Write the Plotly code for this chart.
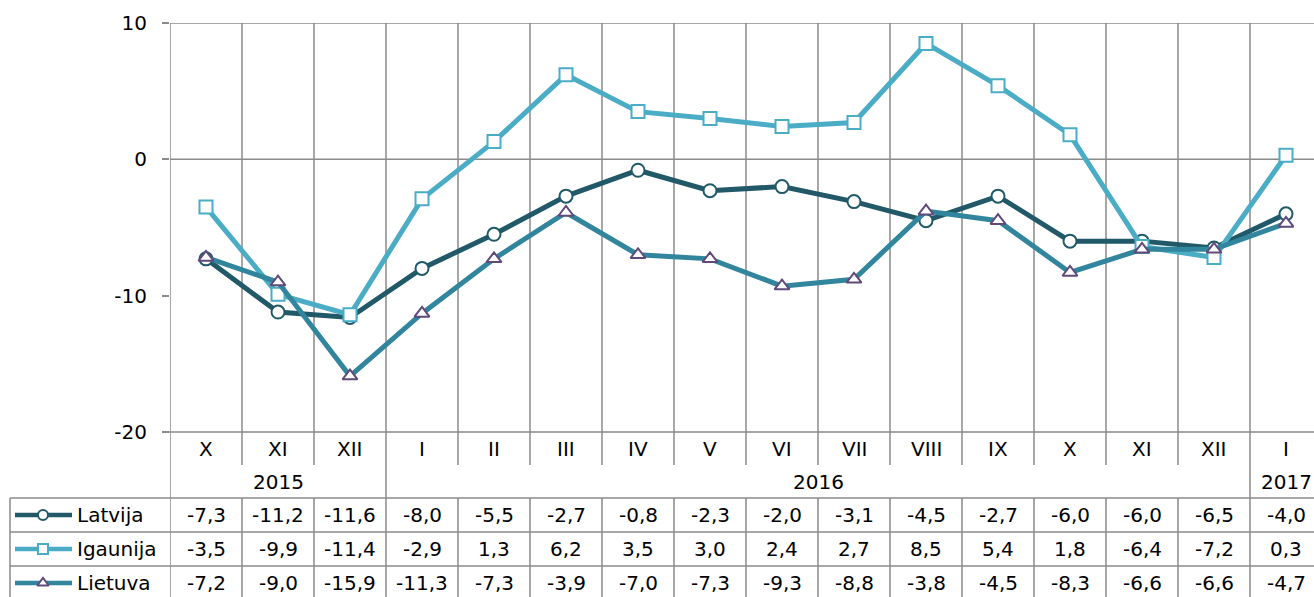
import plotly.graph_objects as go

months = ["X", "XI", "XII", "I", "II", "III", "IV", "V", "VI", "VII", "VIII", "IX", "X", "XI", "XII", "I"]
years = [("2015", 0, 2), ("2016", 3, 14), ("2017", 15, 15)]
latvija = [-7.3, -11.2, -11.6, -8.0, -5.5, -2.7, -0.8, -2.3, -2.0, -3.1, -4.5, -2.7, -6.0, -6.0, -6.5, -4.0]
igaunija = [-3.5, -9.9, -11.4, -2.9, 1.3, 6.2, 3.5, 3.0, 2.4, 2.7, 8.5, 5.4, 1.8, -6.4, -7.2, 0.3]
lietuva = [-7.2, -9.0, -15.9, -11.3, -7.3, -3.9, -7.0, -7.3, -9.3, -8.8, -3.8, -4.5, -8.3, -6.6, -6.6, -4.7]
y_ticks = [-20, -10, 0, 10]

series = [
    ("Latvija", latvija, "#215968", "circle", "#215968"),
    ("Igaunija", igaunija, "#4BACC6", "square", "#4BACC6"),
    ("Lietuva", lietuva, "#31859C", "triangle-up", "#604A7B"),
]

W, H = 1314, 597
OFF = 0  # body margin removed via post_script
FONT = "DejaVu Sans"
GRID = "#8a8a8a"

def px_x(p):
    return (p - OFF) / W

def px_y(p):
    return 1 - (p - OFF) / H

plot_left, plot_top, plot_bottom = 170, 23, 432
col_w = 72.0
n = len(months)
x_idx = list(range(n))

fig = go.Figure()

for name, vals, color, sym, mcol in series:
    fig.add_trace(go.Scatter(
        x=x_idx, y=vals, mode="lines+markers", name=name,
        line=dict(color=color, width=5),
        marker=dict(symbol=sym, size=13, color="white", line=dict(color=mcol, width=2)),
        cliponaxis=False, xaxis="x", yaxis="y",
    ))

# legend samples inside the table (secondary axes)
row_centers = [17, 51, 85]  # in x2/y2 pixel units relative to table top
for (name, vals, color, sym, mcol), rc in zip(series, row_centers):
    fig.add_trace(go.Scatter(x=[5, 62], y=[rc, rc], mode="lines",
                             line=dict(color=color, width=4.5),
                             xaxis="x2", yaxis="y2", hoverinfo="skip"))
    fig.add_trace(go.Scatter(x=[33], y=[rc], mode="markers",
                             marker=dict(symbol=sym, size=10, color="white",
                                         line=dict(color=mcol, width=2)),
                             xaxis="x2", yaxis="y2", hoverinfo="skip", cliponaxis=False))

shapes = []
line = dict(color=GRID, width=1.5)

# horizontal lines
for yv in [10, 0]:
    shapes.append(dict(type="line", xref="paper", yref="y", x0=px_x(plot_left), x1=1, y0=yv, y1=yv, line=line, layer="below"))
shapes.append(dict(type="line", xref="paper", yref="paper", x0=px_x(plot_left - 7), x1=1,
                   y0=px_y(plot_bottom), y1=px_y(plot_bottom), line=line))
for py in [498, 532, 566]:
    shapes.append(dict(type="line", xref="paper", yref="paper", x0=px_x(10), x1=1,
                       y0=px_y(py), y1=px_y(py), line=line))
shapes.append(dict(type="line", xref="paper", yref="paper", x0=px_x(10), x1=px_x(10),
                   y0=px_y(498), y1=0, line=line))

# vertical lines at category boundaries
group_edges = set()
for _, a, b in years:
    group_edges.add(a - 0.5)
    group_edges.add(b + 0.5)
for k in range(n + 1):
    xb = k - 0.5
    if xb in group_edges:
        shapes.append(dict(type="line", xref="x", yref="paper", x0=xb, x1=xb,
                           y0=px_y(plot_top), y1=0, line=line, layer="below"))
    else:
        shapes.append(dict(type="line", xref="x", yref="paper", x0=xb, x1=xb,
                           y0=px_y(plot_top), y1=px_y(465), line=line, layer="below"))
        shapes.append(dict(type="line", xref="x", yref="paper", x0=xb, x1=xb,
                           y0=px_y(498), y1=0, line=line, layer="below"))

annotations = []
tfont = dict(family=FONT, size=20, color="black")
for i, m in enumerate(months):
    annotations.append(dict(x=i, y=px_y(449), xref="x", yref="paper", text=m,
                            showarrow=False, font=tfont, xanchor="center", yanchor="middle"))
for label, a, b in years:
    annotations.append(dict(x=(a + b) / 2, y=px_y(482), xref="x", yref="paper", text=label,
                            showarrow=False, font=tfont, xanchor="center", yanchor="middle"))
table_rows = [515, 549, 583]
for (name, vals, color, sym, mcol), py in zip(series, table_rows):
    annotations.append(dict(x=65, y=py - 498, xref="x2", yref="y2", text=name, showarrow=False,
                            font=tfont, xanchor="left", yanchor="middle"))
    for i, v in enumerate(vals):
        annotations.append(dict(x=i, y=px_y(py), xref="x", yref="paper",
                                text=f"{v:.1f}".replace(".", ","), showarrow=False,
                                font=tfont, xanchor="center", yanchor="middle"))

fig.update_layout(
    width=W, height=H,
    margin=dict(l=0, r=0, t=0, b=0, autoexpand=False),
    paper_bgcolor="white", plot_bgcolor="white",
    showlegend=False,
    xaxis=dict(domain=[px_x(plot_left), 1], range=[-0.5, -0.5 + (W + OFF - plot_left) / col_w],
               showticklabels=False, showgrid=False, zeroline=False, showline=False, ticks="",
               automargin=False),
    yaxis=dict(domain=[px_y(plot_bottom), px_y(plot_top)], range=[-20, 10],
               tickvals=y_ticks, ticktext=[str(t) for t in y_ticks],
               ticks="outside", ticklen=7, tickwidth=1.5, tickcolor=GRID,
               showgrid=False, zeroline=False, showline=False, automargin=False,
               tickfont=dict(family=FONT, size=20, color="black"), ticklabelstandoff=11),
    xaxis2=dict(domain=[max(0, px_x(10)), px_x(170)], range=[0, 160], visible=False, anchor="y2",
                automargin=False),
    yaxis2=dict(domain=[max(0, px_y(597)), px_y(498)], range=[99, 0], visible=False, anchor="x2",
                automargin=False),
    shapes=shapes, annotations=annotations,
)

fig.write_html("out.html",
               config={"displayModeBar": False},
               post_script="document.body.style.margin='0px';document.body.style.overflow='hidden';")
